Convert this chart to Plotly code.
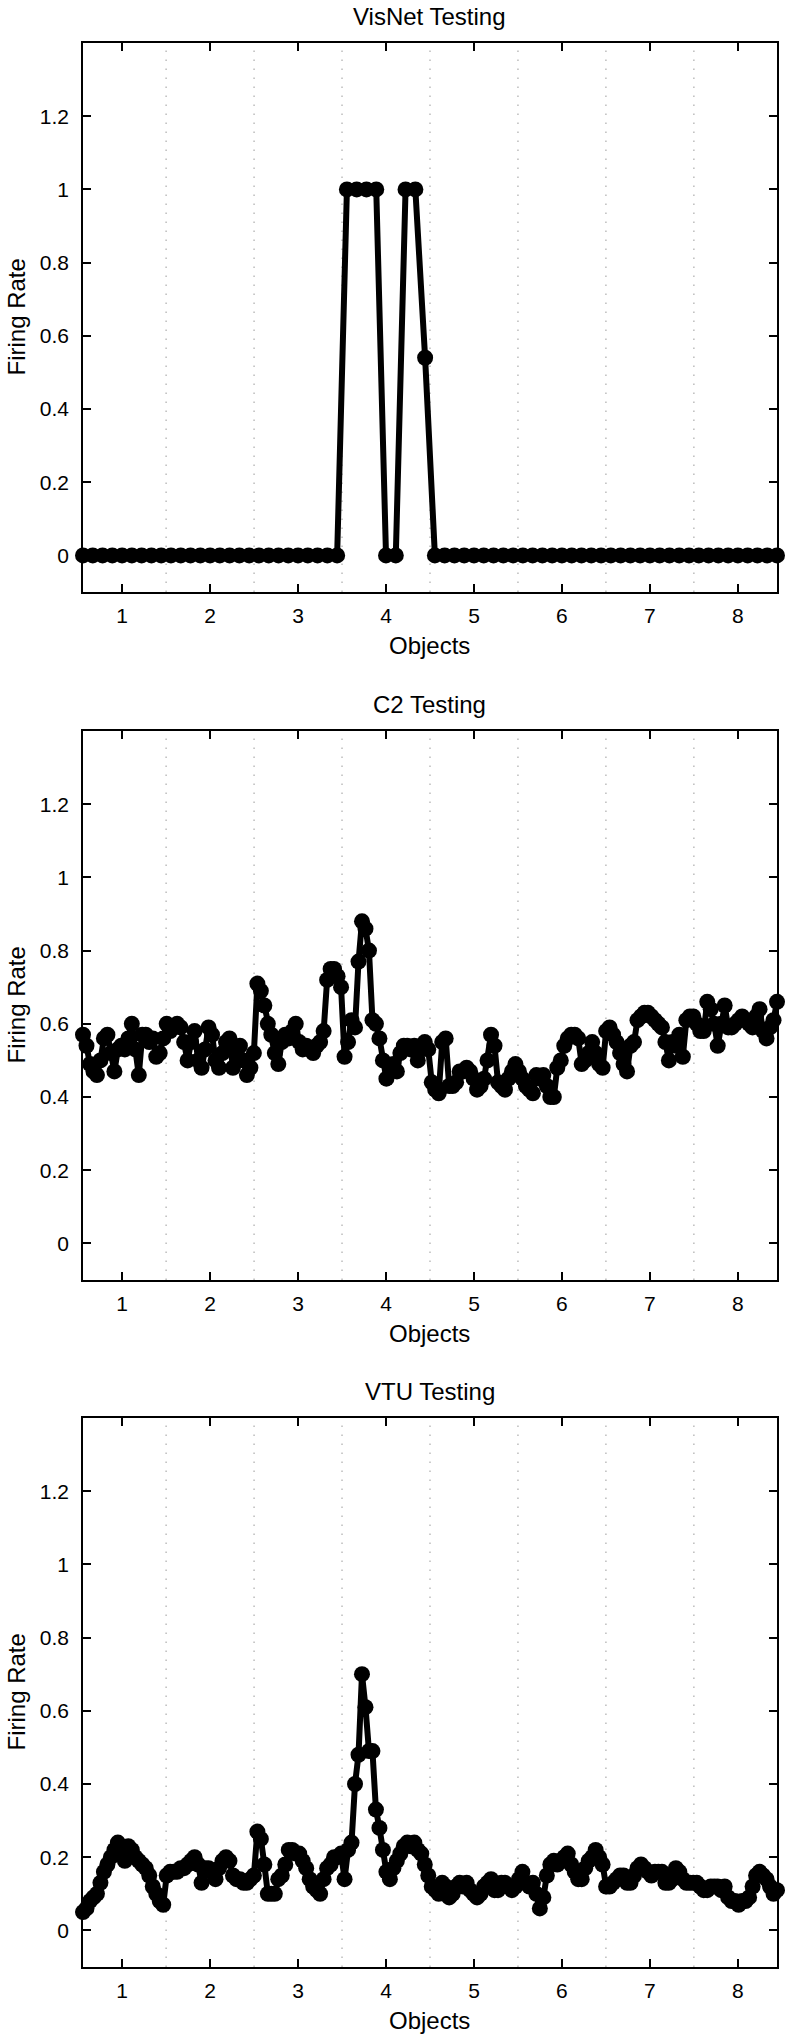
import numpy as np
import plotly.graph_objects as go

# ---------------- data ----------------
objects = [1, 2, 3, 4, 5, 6, 7, 8]
titles = ["VisNet Testing", "C2 Testing", "VTU Testing"]
y_ticks = [0, 0.2, 0.4, 0.6, 0.8, 1.0, 1.2]

# VisNet: 9 test views per object
visnet_per_object = 9
visnet = [
    0, 0, 0, 0, 0, 0, 0, 0, 0,
    0, 0, 0, 0, 0, 0, 0, 0, 0,
    0, 0, 0, 0, 0, 0, 0, 0, 0,
    1, 1, 1, 1, 0, 0, 1, 1, 0.54,
    0, 0, 0, 0, 0, 0, 0, 0, 0,
    0, 0, 0, 0, 0, 0, 0, 0, 0,
    0, 0, 0, 0, 0, 0, 0, 0, 0,
    0, 0, 0, 0, 0, 0, 0, 0, 0,
]

c2 = [
    # object 1
    0.57, 0.54, 0.49, 0.47, 0.46, 0.50, 0.56, 0.57, 0.52, 0.47, 0.53, 0.54,
    0.53, 0.56, 0.60, 0.53, 0.46, 0.57, 0.57, 0.55, 0.56, 0.51, 0.52, 0.56,
    # object 2
    0.60, 0.58, 0.59, 0.60, 0.59, 0.55, 0.50, 0.55, 0.58, 0.50, 0.48, 0.53, 0.59,
    0.57, 0.50, 0.48, 0.52, 0.55, 0.56, 0.48, 0.52, 0.54, 0.50, 0.46, 0.48, 0.52,
    # object 3
    0.71, 0.69, 0.65, 0.60, 0.57, 0.52, 0.49, 0.55, 0.57, 0.56, 0.58, 0.60, 0.55,
    0.53, 0.54, 0.53, 0.52, 0.54, 0.55, 0.58, 0.72, 0.75, 0.75, 0.73, 0.70,
    # object 4
    0.51, 0.55, 0.61, 0.59, 0.77, 0.88, 0.86, 0.80, 0.61, 0.60, 0.56, 0.50, 0.45,
    0.48, 0.49, 0.47, 0.52, 0.54, 0.54, 0.53, 0.54, 0.50, 0.53, 0.55, 0.53,
    # object 5
    0.44, 0.42, 0.41, 0.55, 0.56, 0.43, 0.43, 0.44, 0.47, 0.47, 0.48, 0.47, 0.45,
    0.42, 0.43, 0.45, 0.50, 0.57, 0.54, 0.44, 0.43, 0.42, 0.45, 0.47, 0.49,
    # object 6
    0.47, 0.45, 0.43, 0.42, 0.41, 0.46, 0.45, 0.46, 0.43, 0.40, 0.40, 0.48, 0.50,
    0.54, 0.56, 0.57, 0.57, 0.56, 0.49, 0.50, 0.52, 0.55, 0.52, 0.49, 0.48,
    # object 7
    0.58, 0.59, 0.57, 0.55, 0.52, 0.49, 0.47, 0.54, 0.55, 0.61, 0.62, 0.63, 0.63,
    0.62, 0.61, 0.60, 0.59, 0.55, 0.50, 0.55, 0.54, 0.57, 0.51, 0.61, 0.62, 0.62,
    # object 8
    0.60, 0.58, 0.58, 0.66, 0.64, 0.60, 0.54, 0.60, 0.65, 0.59, 0.59, 0.60,
    0.61, 0.62, 0.61, 0.60, 0.59, 0.62, 0.64, 0.58, 0.56, 0.59, 0.61, 0.66,
]

vtu = [
    # object 1
    0.05, 0.06, 0.08, 0.09, 0.10, 0.13, 0.16, 0.18, 0.20, 0.22, 0.24, 0.21,
    0.19, 0.23, 0.22, 0.20, 0.19, 0.18, 0.17, 0.15, 0.12, 0.10, 0.08, 0.07,
    # object 2
    0.15, 0.16, 0.16, 0.16, 0.17, 0.17, 0.18, 0.19, 0.20, 0.18, 0.13, 0.17, 0.17,
    0.16, 0.14, 0.17, 0.19, 0.20, 0.19, 0.15, 0.14, 0.14, 0.13, 0.13, 0.14, 0.15,
    # object 3
    0.27, 0.25, 0.18, 0.10, 0.10, 0.10, 0.14, 0.15, 0.18, 0.22, 0.22, 0.21, 0.21,
    0.19, 0.17, 0.14, 0.12, 0.11, 0.10, 0.14, 0.17, 0.18, 0.20, 0.20, 0.21,
    # object 4
    0.14, 0.22, 0.24, 0.40, 0.48, 0.70, 0.61, 0.49, 0.49, 0.33, 0.28, 0.22, 0.16,
    0.14, 0.17, 0.19, 0.21, 0.23, 0.24, 0.23, 0.24, 0.22, 0.21, 0.18, 0.15,
    # object 5
    0.12, 0.11, 0.10, 0.13, 0.12, 0.09, 0.10, 0.12, 0.13, 0.12, 0.13, 0.11, 0.10,
    0.09, 0.10, 0.12, 0.13, 0.14, 0.11, 0.11, 0.13, 0.13, 0.12, 0.11, 0.12,
    # object 6
    0.14, 0.16, 0.13, 0.12, 0.13, 0.10, 0.06, 0.09, 0.15, 0.18, 0.19, 0.18, 0.19,
    0.20, 0.21, 0.18, 0.16, 0.14, 0.14, 0.17, 0.19, 0.20, 0.22, 0.20, 0.18,
    # object 7
    0.12, 0.12, 0.13, 0.14, 0.15, 0.15, 0.13, 0.13, 0.15, 0.17, 0.18, 0.17, 0.16,
    0.15, 0.16, 0.16, 0.16, 0.13, 0.13, 0.14, 0.17, 0.16, 0.14, 0.13, 0.13, 0.13,
    # object 8
    0.13, 0.12, 0.11, 0.11, 0.12, 0.12, 0.12, 0.11, 0.12, 0.09, 0.08, 0.08,
    0.07, 0.08, 0.08, 0.09, 0.12, 0.15, 0.16, 0.15, 0.14, 0.12, 0.10, 0.11,
]

# ---------------- geometry ----------------
W, H = 786, 2035
x_lo = objects[0] - 0.5 + 0.5 / visnet_per_object
x_hi = objects[-1] + 0.5 - 0.5 / visnet_per_object
y_range = [-0.1, 1.4]

x_visnet = np.linspace(x_lo, x_hi, len(visnet))
x_c2 = np.linspace(x_lo, x_hi, len(c2))
x_vtu = np.linspace(x_lo, x_hi, len(vtu))
series = [(x_visnet, visnet), (x_c2, c2), (x_vtu, vtu)]

left_px, right_px = 83, 777
panels_px = [(43, 592), (731, 1280), (1418, 1967)]  # top, bottom of each plot box

font_family = "Liberation Sans, Arial, Helvetica, sans-serif"
tick_font = dict(family=font_family, size=21, color="black")
label_font = dict(family=font_family, size=24, color="black")

fig = go.Figure()
annotations = []
shapes = []
boundaries = [o + 0.5 for o in objects[:-1]]

for i, ((xs, ys), title, (top, bot)) in enumerate(zip(series, titles, panels_px)):
    n = "" if i == 0 else str(i + 1)
    xa, ya = "x" + n, "y" + n
    fig.add_trace(go.Scatter(
        x=xs, y=ys, xaxis=xa, yaxis=ya, mode="lines+markers",
        line=dict(color="black", width=6),
        marker=dict(color="black", size=16),
        cliponaxis=False, showlegend=False, hoverinfo="skip",
    ))
    dom_y = [1 - bot / H, 1 - top / H]
    common = dict(showline=True, linecolor="black", linewidth=1.5, mirror="ticks",
                  ticks="inside", ticklen=8, tickwidth=1.5, tickcolor="black",
                  showgrid=False, zeroline=False, tickfont=tick_font)
    fig.layout["xaxis" + n] = dict(domain=[left_px / W, right_px / W], range=[x_lo, x_hi],
                                   anchor=ya, tickmode="array", tickvals=objects,
                                   ticktext=[str(o) for o in objects],
                                   ticklabelstandoff=4, **common)
    fig.layout["yaxis" + n] = dict(domain=dom_y, range=y_range, anchor=xa,
                                   tickmode="array", tickvals=y_ticks,
                                   ticktext=[f"{v:g}" for v in y_ticks],
                                   ticklabelstandoff=8, **common)
    for b in boundaries:
        shapes.append(dict(type="line", xref=xa, yref=ya + " domain", x0=b, x1=b, y0=0, y1=1,
                           line=dict(color="#9a9a9a", width=1, dash="1.5px,7.5px"), layer="below"))
    xc = (left_px + right_px) / 2 / W
    annotations.append(dict(text=title, x=xc, y=1 - (top - 27) / H, xref="paper", yref="paper",
                            xanchor="center", yanchor="middle", showarrow=False, font=label_font))
    annotations.append(dict(text="Objects", x=xc, y=1 - (bot + 53) / H, xref="paper", yref="paper",
                            xanchor="center", yanchor="middle", showarrow=False, font=label_font))
    annotations.append(dict(text="Firing Rate", x=16 / W, y=1 - (top + bot) / 2 / H,
                            xref="paper", yref="paper", xanchor="center", yanchor="middle",
                            textangle=-90, showarrow=False, font=label_font))

fig.update_layout(width=W, height=H, margin=dict(l=0, r=0, t=0, b=0),
                  paper_bgcolor="white", plot_bgcolor="white",
                  annotations=annotations, shapes=shapes, showlegend=False)

fig.write_html("out.html", config={"displayModeBar": False},
               post_script="document.body.style.margin='0';document.body.style.overflow='hidden';")
